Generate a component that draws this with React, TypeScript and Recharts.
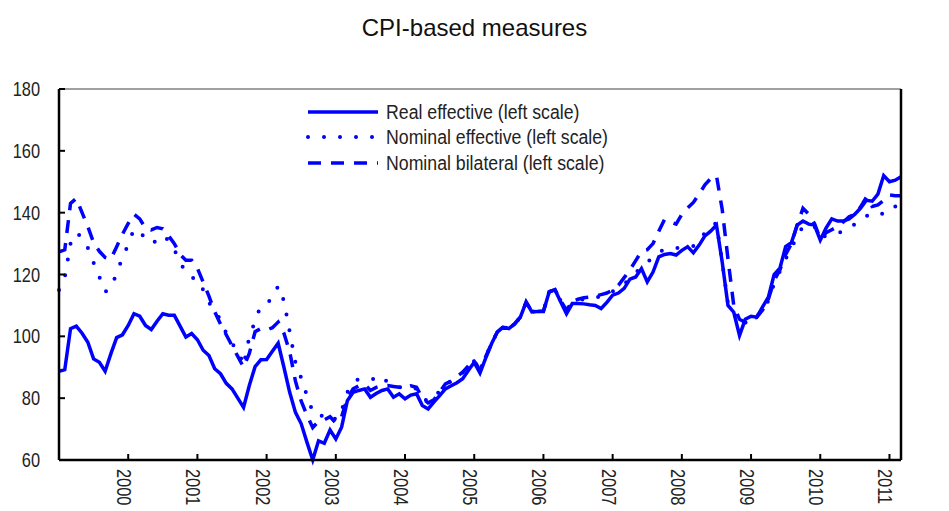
import { LineChart, Line, XAxis, YAxis, ReferenceLine, Legend } from "recharts";

const FONT = "'Liberation Sans', Arial, sans-serif";
const BLUE = "#0000ff";
// the original uses a condensed face; squeeze Liberation Sans horizontally instead
const TICK_SQUEEZE = 0.82;
const LEGEND_SQUEEZE = 0.885;

// monthly, Jan 1999 .. Mar 2011
const START_YEAR = 1999;
const MONTH_COUNT = 147;
const months = Array.from(
  { length: MONTH_COUNT },
  (_, i) => `${START_YEAR + Math.floor(i / 12)}-${String((i % 12) + 1).padStart(2, "0")}`
);

const yearLabels = ["2000", "2001", "2002", "2003", "2004", "2005", "2006", "2007", "2008", "2009", "2010", "2011"];
const yTicks = [60, 80, 100, 120, 140, 160, 180];

const seriesNames = ["Real effective (left scale)", "Nominal effective (left scale)", "Nominal bilateral (left scale)"];

const realEffective = [
  88.7, 89.2, 102.5, 103.3, 101, 98.1, 92.7, 91.6, 88.7, 94.4, 99.6, 100.5,
  103.5, 107.3, 106.5, 103.5, 102.2, 104.9, 107.3, 106.8, 106.8, 103.3, 99.8, 100.9,
  98.9, 95.5, 93.8, 89.5, 87.9, 84.8, 83, 80, 77, 84.1, 90.2, 92.4,
  92.5, 95.2, 97.8, 90, 81.9, 75.4, 71.7, 65.7, 60, 66.2, 65.4, 69.7,
  66.8, 70.6, 79.2, 81.9, 82.5, 83, 80.3, 81.5, 82.5, 83, 80.3, 81.4,
  79.8, 81, 81.4, 77.6, 76.5, 78.7, 80.8, 83, 84, 85, 86.3, 89,
  91.6, 88.1, 93, 97.6, 101.4, 103, 102.5, 104, 106.2, 111.1, 107.9, 108,
  108, 114.4, 115.1, 111.1, 107.3, 110.6, 110.6, 110.5, 110.2, 110, 109, 111,
  113.3, 114, 115.5, 118.5, 119.2, 121.9, 117.6, 120.8, 125.7, 126.5, 126.8, 126.3,
  127.8, 129, 127, 129.5, 132.5, 134, 136, 124, 110, 107.8, 100.3, 105.5,
  106.5, 106.2, 109.5, 112.7, 120, 122, 129, 130.3, 136, 137.3, 136.3, 136,
  131.1, 135, 138, 137.3, 137.3, 138, 139.5, 141.5, 144, 143.7, 146, 152,
  150, 150.5, 151.6,
];

const nominalEffective = [
  115, 119, 130, 133.5, 132, 128.6, 123.8, 119.2, 114.4, 115.5, 120.5, 125.4,
  129.7, 134.7, 133.5, 132, 130, 131, 132.7, 131, 128, 124.1, 120.5, 119,
  118.5, 115, 111, 108, 105.5, 101, 97.5, 96, 90.5, 99.8, 104.9, 110,
  111, 112, 116.3, 111.5, 101.5, 91.5, 86.5, 80.8, 75.5, 74, 74.5, 75.1,
  73, 76, 81.9, 85, 86.3, 86.2, 86, 86.5, 87.3, 85, 84, 83.5,
  83.5, 83.8, 83, 80, 79, 80, 82.4, 84.5, 85.5, 86.8, 88.3, 90.3,
  92, 89, 93.5, 97.6, 101.4, 103, 102.5, 104, 106.2, 111, 108, 108,
  108, 114.4, 115.1, 111.5, 108.5, 111, 111.5, 112, 112, 112.5, 113, 113.5,
  114.5, 115.5, 117, 118.5, 120.5, 122.5, 124, 125.5, 127.3, 128, 128, 128.5,
  128.8, 129, 129.2, 131, 133.5, 136, 136.5, 124, 110.5, 107.5, 104, 104.5,
  104.6, 106.5, 108.5, 111.5, 117.1, 121, 125, 128.5, 132.5, 135.5, 136, 135.5,
  132, 132.5, 133.1, 133.5, 133.8, 135, 136.3, 137.5, 139, 138.8, 138.7, 140,
  141.9, 142, 141.5,
];

const nominalBilateral = [
  127.3, 128, 143, 144.6, 140, 135.5, 130.3, 127.5, 125.5, 125, 129, 133,
  136.5, 139.5, 138, 135, 134.4, 135.2, 134.8, 132.5, 130, 126.5, 124.6, 124.6,
  122, 117.5, 113, 108, 104, 100.5, 97, 93.5, 90, 94.5, 101.5, 102.5,
  102, 102.8, 104.6, 101, 95, 85.5, 79, 74.5, 70.5, 72.5, 73, 74,
  72, 74, 80, 83, 84, 84.5, 82.5, 83.5, 84, 84.1, 83.8, 83.5,
  83.5, 84, 83.5, 80, 78.5, 79.5, 82, 84.6, 85.5, 87, 88.4, 90.5,
  92.2, 89, 93.5, 97.6, 101.4, 103, 102.5, 104, 106.2, 111.1, 108, 108,
  108.2, 114.4, 115.1, 111.5, 108.5, 111.3, 112, 112.5, 112.7, 113, 113.5, 114,
  115, 116.5, 119, 121.5, 124.5, 127.5, 128, 130, 134, 137.8, 137, 136.3,
  139.5, 141.5, 143.3, 146, 149, 151, 152, 141, 125, 110, 105.5, 104.5,
  105.2, 106.2, 108.5, 112, 118, 121.5, 126.5, 130, 136, 141.4, 139.5, 136.5,
  131.5, 133.5, 134.5, 135.5, 137, 138.7, 139.5, 141.9, 145, 142, 142.5, 144,
  145.7, 145.5, 145.5,
];

const data = months.map((month, i) => ({
  month,
  real: realEffective[i],
  nomEff: nominalEffective[i],
  nomBil: nominalBilateral[i],
}));

const yearTicks = yearLabels.map((y) => `${y}-01`);

const STYLES = [
  { key: "real", dash: undefined as string | undefined, cap: "butt" as const, width: 3.5 },
  { key: "nomEff", dash: "0 16", cap: "round" as const, width: 4 },
  { key: "nomBil", dash: "13 10", cap: "butt" as const, width: 3.5 },
];

function YearTick(props: any) {
  const { x, y, payload } = props;
  return (
    <g>
      <line x1={x} y1={y} x2={x} y2={y - 6} stroke="#000" strokeWidth={2} />
      <text
        x={0}
        y={0}
        transform={`translate(${x - 4},${y + 9}) rotate(90) scale(${TICK_SQUEEZE},1)`}
        dominantBaseline="central"
        fontSize={20}
        fontFamily={FONT}
        fill="#222"
      >
        {String(payload.value).slice(0, 4)}
      </text>
    </g>
  );
}

function LeftTick(props: any) {
  const { x, y, payload } = props;
  return (
    <g>
      <line x1={x} y1={y} x2={x + 6} y2={y} stroke="#000" strokeWidth={2} />
      <text
        x={0}
        y={0}
        transform={`translate(${x - 19},${y}) scale(${TICK_SQUEEZE},1)`}
        textAnchor="end"
        dominantBaseline="central"
        fontSize={20}
        fontFamily={FONT}
        fill="#222"
      >
        {payload.value}
      </text>
    </g>
  );
}

function RightTick(props: any) {
  const { x, y, payload } = props;
  return (
    <g>
      <line x1={x} y1={y} x2={x - 6} y2={y} stroke="#000" strokeWidth={2} />
      <text
        x={0}
        y={0}
        transform={`translate(${x + 17},${y}) scale(${TICK_SQUEEZE},1)`}
        textAnchor="start"
        dominantBaseline="central"
        fontSize={20}
        fontFamily={FONT}
        fill="#222"
      >
        {payload.value}
      </text>
    </g>
  );
}

function LegendBox() {
  return (
    <div style={{ fontFamily: FONT, fontSize: 20, color: "#222" }}>
      {seriesNames.map((name, i) => {
        const s = STYLES[i];
        return (
          <div key={name} style={{ display: "flex", alignItems: "center", height: 25.5 }}>
            <svg width={74} height={20} style={{ display: "block", flex: "none" }}>
              <line
                x1={2}
                y1={10}
                x2={72}
                y2={10}
                stroke={BLUE}
                strokeWidth={s.width}
                strokeDasharray={s.dash}
                strokeLinecap={s.cap}
              />
            </svg>
            <span
              style={{
                marginLeft: 6,
                whiteSpace: "nowrap",
                lineHeight: "20px",
                display: "inline-block",
                transform: `scaleX(${LEGEND_SQUEEZE})`,
                transformOrigin: "left center",
              }}
            >
              {name}
            </span>
          </div>
        );
      })}
    </div>
  );
}

export default function App() {
  return (
    <div style={{ position: "absolute", left: 0, top: 0, width: 949, height: 511, background: "#fff" }}>
      <div
        style={{
          position: "absolute",
          left: 0,
          top: 13,
          width: 949,
          textAlign: "center",
          fontFamily: FONT,
          fontSize: 24,
          lineHeight: "30px",
          color: "#111",
        }}
      >
        CPI-based measures
      </div>
      <LineChart width={949} height={511} data={data} margin={{ top: 89, right: 0, bottom: 0, left: 0 }}>
        <XAxis
          dataKey="month"
          ticks={yearTicks}
          interval={0}
          height={51}
          tickSize={0}
          tickMargin={0}
          tickLine={false}
          axisLine={{ stroke: "#000", strokeWidth: 2.5 }}
          tick={<YearTick />}
        />
        <YAxis
          yAxisId="left"
          domain={[60, 180]}
          ticks={yTicks}
          width={59}
          tickSize={0}
          tickMargin={0}
          tickLine={false}
          axisLine={{ stroke: "#000", strokeWidth: 2.5 }}
          tick={<LeftTick />}
        />
        <YAxis
          yAxisId="right"
          orientation="right"
          domain={[60, 180]}
          ticks={yTicks}
          width={48}
          tickSize={0}
          tickMargin={0}
          tickLine={false}
          axisLine={{ stroke: "#000", strokeWidth: 2.5 }}
          tick={<RightTick />}
        />
        <ReferenceLine yAxisId="left" y={180} stroke="#808080" strokeWidth={1.5} />
        <Line
          yAxisId="left"
          dataKey="nomBil"
          stroke={BLUE}
          strokeWidth={3.5}
          strokeDasharray="13 10"
          dot={false}
          type="linear"
          isAnimationActive={false}
        />
        <Line
          yAxisId="left"
          dataKey="nomEff"
          stroke={BLUE}
          strokeWidth={4}
          strokeDasharray="0 16"
          strokeLinecap="round"
          dot={false}
          type="linear"
          isAnimationActive={false}
        />
        <Line
          yAxisId="left"
          dataKey="real"
          stroke={BLUE}
          strokeWidth={3.5}
          dot={false}
          type="linear"
          isAnimationActive={false}
        />
        <Legend
          layout="vertical"
          align="center"
          verticalAlign="middle"
          content={<LegendBox />}
          wrapperStyle={{ position: "absolute", left: 306, top: 99, width: 330 }}
        />
      </LineChart>
    </div>
  );
}
